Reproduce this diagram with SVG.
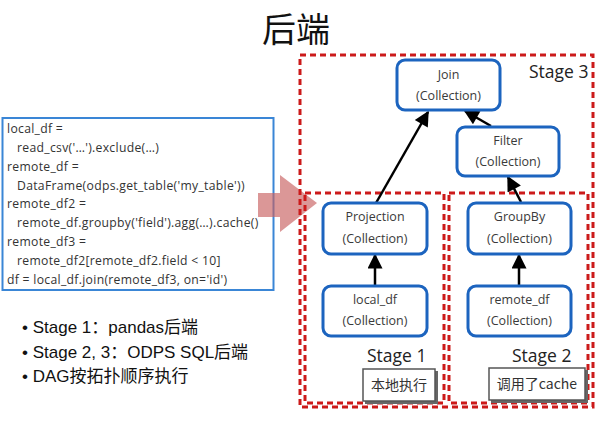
<svg xmlns="http://www.w3.org/2000/svg" width="596" height="422" viewBox="0 0 596 422">
<defs>
<style>
.node rect{fill:#fff;stroke:#1c64bf;stroke-width:3}
.nt{font-family:"Open Sans","Noto Sans",sans-serif;font-size:12.5px;fill:#3a3a3a;text-anchor:middle}
.stage{fill:none;stroke:#cc1a1a;stroke-width:3;stroke-dasharray:6 4}
.st{font-family:"Open Sans","Noto Sans",sans-serif;font-size:17.5px;fill:#222}
.code{font-family:"Open Sans","Noto Sans",sans-serif;font-size:12.2px;letter-spacing:0.3px;fill:#333}
.bul{font-family:"Liberation Sans","Noto Sans CJK SC",sans-serif;font-size:17px;fill:#111}
.note .sh{fill:#666;stroke:none}
.note .bx{fill:#fff;stroke:#555;stroke-width:1.5}
.nn{font-family:"Noto Sans CJK SC",sans-serif;font-size:14px;fill:#333;text-anchor:middle}
.edge{stroke:#000;stroke-width:2.5;fill:none;marker-end:url(#ah)}
</style>
<marker id="ah" viewBox="0 0 10 10" refX="9" refY="5" markerWidth="6.5" markerHeight="6" orient="auto" markerUnits="strokeWidth">
<path d="M0,0 L10,5 L0,10 z" fill="#000"/>
</marker>
</defs>
<rect width="596" height="422" fill="#fff"/>
<text x="296" y="42" font-family="Noto Sans CJK SC,sans-serif" font-size="34" fill="#111" text-anchor="middle">后端</text>

<g id="code-box">
<rect x="2.5" y="118" width="271" height="172" fill="#fff" stroke="#3a86d6" stroke-width="2"/>
<text class="code" x="7" y="133">local_df =</text>
<text class="code" x="17" y="152">read_csv('…').exclude(…)</text>
<text class="code" x="7" y="171">remote_df =</text>
<text class="code" x="17" y="190">DataFrame(odps.get_table('my_table'))</text>
<text class="code" x="7" y="208">remote_df2 =</text>
<text class="code" x="17" y="227">remote_df.groupby('field').agg(…).cache()</text>
<text class="code" x="7" y="246">remote_df3 =</text>
<text class="code" x="17" y="265">remote_df2[remote_df2.field &lt; 10]</text>
<text class="code" x="7" y="284">df = local_df.join(remote_df3, on='id')</text>
</g>

<g id="big-arrow">
<path d="M258,193 L280,193 L280,175 L317,203 L280,232 L280,217 L258,217 z" fill="#c86060" fill-opacity="0.65"/>
</g>

<g id="stage3"><rect class="stage" x="300" y="55" width="293" height="352"/><text class="st" x="529" y="78">Stage 3</text></g>
<g id="stage1"><rect class="stage" x="305" y="193" width="139" height="210"/><text class="st" x="367" y="362">Stage 1</text></g>
<g id="stage2"><rect class="stage" x="449" y="193" width="139" height="210"/><text class="st" x="512" y="362">Stage 2</text></g>

<g class="connectors">
<line class="edge" x1="375" y1="286" x2="375" y2="255"/>
<line class="edge" x1="519" y1="286" x2="519" y2="255"/>
<line class="edge" x1="376" y1="203" x2="428" y2="112"/>
<line class="edge" x1="521" y1="202" x2="508" y2="177"/>
<line class="edge" x1="491" y1="126" x2="465" y2="111"/>
</g>

<g id="join" class="node"><rect x="397" y="60" width="103" height="50" rx="8"/><text class="nt" x="448.5" y="79">Join</text><text class="nt" x="448.5" y="100">(Collection)</text></g>
<g id="filter" class="node"><rect x="457" y="127" width="102" height="49" rx="8"/><text class="nt" x="508" y="145">Filter</text><text class="nt" x="508" y="166">(Collection)</text></g>
<g id="projection" class="node"><rect x="323" y="203" width="104" height="51" rx="8"/><text class="nt" x="375" y="221">Projection</text><text class="nt" x="375" y="243">(Collection)</text></g>
<g id="local_df" class="node"><rect x="323" y="286" width="104" height="50" rx="8"/><text class="nt" x="375" y="304">local_df</text><text class="nt" x="375" y="325">(Collection)</text></g>
<g id="groupby" class="node"><rect x="468" y="203" width="103" height="51" rx="8"/><text class="nt" x="519.5" y="221">GroupBy</text><text class="nt" x="519.5" y="243">(Collection)</text></g>
<g id="remote_df" class="node"><rect x="468" y="286" width="103" height="50" rx="8"/><text class="nt" x="519.5" y="304">remote_df</text><text class="nt" x="519.5" y="325">(Collection)</text></g>

<g id="note1" class="note"><rect class="sh" x="365" y="371" width="73" height="33"/><rect class="bx" x="363" y="369" width="72" height="32"/><text class="nn" x="399" y="390">本地执行</text></g>
<g id="note2" class="note"><rect class="sh" x="491" y="370" width="97" height="33"/><rect class="bx" x="489" y="368" width="96" height="32"/><text class="nn" x="537" y="389">调用了cache</text></g>

<g id="bullets" class="bul">
<text x="22" y="333">• Stage 1：pandas后端</text>
<text x="22" y="358">• Stage 2, 3：ODPS SQL后端</text>
<text x="22" y="382">• DAG按拓扑顺序执行</text>
</g>
</svg>
